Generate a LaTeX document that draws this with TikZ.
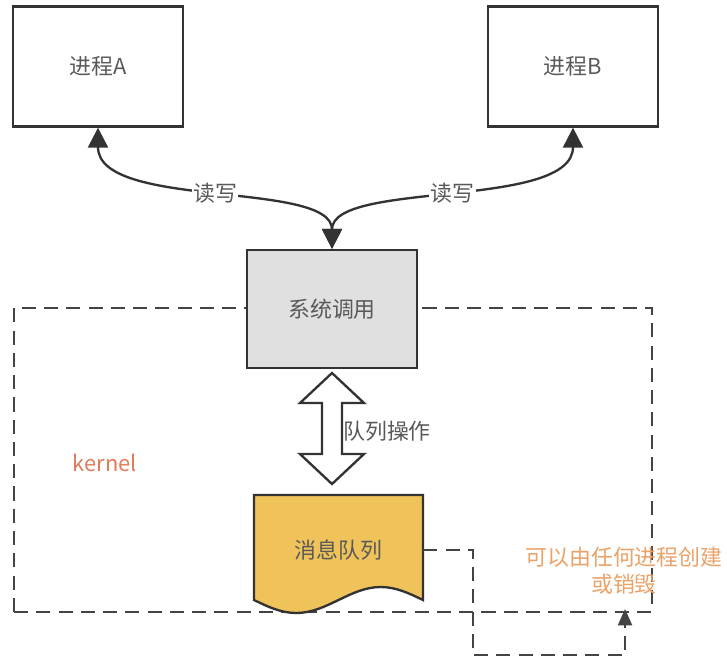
\documentclass[tikz,border=0pt]{standalone}
\usepackage{fontspec}
\setmainfont{Noto Sans CJK SC}
\usepackage{xcolor}
\usepackage{tikz}
\usetikzlibrary{arrows.meta,calc}
\definecolor{LineDark}{HTML}{333333}
\definecolor{TextGray}{HTML}{595959}
\definecolor{SysGray}{HTML}{E0E0E0}
\definecolor{QueueGold}{HTML}{F0C35A}
\definecolor{KernelRed}{HTML}{E07B5A}
\definecolor{NoteOrange}{HTML}{EAA268}
\definecolor{DashGray}{HTML}{444444}

\begin{document}
\begin{tikzpicture}[x=0.3mm,y=-0.3mm,
    every node/.style={font=\fontsize{18.7pt}{23pt}\selectfont, text=TextGray},
    ar/.style={{Triangle[length=17pt,width=17pt]}-{Triangle[length=17pt,width=17pt]},
               line width=2pt,LineDark},
    dl/.style={line width=2pt,DashGray,dash pattern=on 12pt off 7pt}]
  \useasboundingbox (0,0) rectangle (727,664);
  % kernel area
  \node[dl, draw, minimum width=191.4mm, minimum height=91.2mm] (kernel) at (333,460) {};
  \node[text=KernelRed] (klbl) at (105,463) {kernel};
  % processes and system call
  \node[draw=LineDark, line width=2pt, minimum width=51mm, minimum height=36mm]
    (pa) at (98,66.5) {进程A};
  \node[draw=LineDark, line width=2pt, minimum width=51mm, minimum height=36mm]
    (pb) at (573,66.5) {进程B};
  \node[draw=LineDark, fill=SysGray, line width=2pt, minimum width=51mm, minimum height=35.4mm]
    (sys) at (332,309) {系统调用};
  \draw[ar] (pa.south) .. controls (98,210) and (332,180) .. (sys.north)
    node[pos=0.5, fill=white, inner sep=1pt] (rwa) {读写};
  \draw[ar] (pb.south) .. controls (573,210) and (332,180) .. (sys.north)
    node[pos=0.5, fill=white, inner sep=1pt] (rwb) {读写};
  % queue operations
  \coordinate (qop) at (332,428.5);
  \draw[line width=2pt, LineDark, fill=white] (qop) ++(0,-55.5) -- ++(32,30) -- ++(-22,0)
    -- ++(0,51) -- ++(22,0) -- ++(-32,30) -- ++(-32,-30) -- ++(22,0) -- ++(0,-51)
    -- ++(-22,0) -- cycle;
  \node (qlbl) at (387,431) {队列操作};
  % message queue
  \draw[line width=2pt, LineDark, fill=QueueGold] (254,495) -- (423,495) -- (423,600)
    sin ++(-42.25,-13) cos ++(-42.25,13) sin ++(-42.25,13) cos ++(-42.25,-13) -- cycle;
  \node[minimum width=50.7mm, minimum height=30mm] (mq) at (338.5,550) {消息队列};
  \coordinate (kin) at (625,609);
  \draw[dl, -{Triangle[length=14pt,width=12pt]}] (mq.east) -| (473,655) -| (kin);
  \node[text=NoteOrange, align=center] (note) at (624,571) {可以由任何进程创建\\或销毁};
\end{tikzpicture}
\end{document}
